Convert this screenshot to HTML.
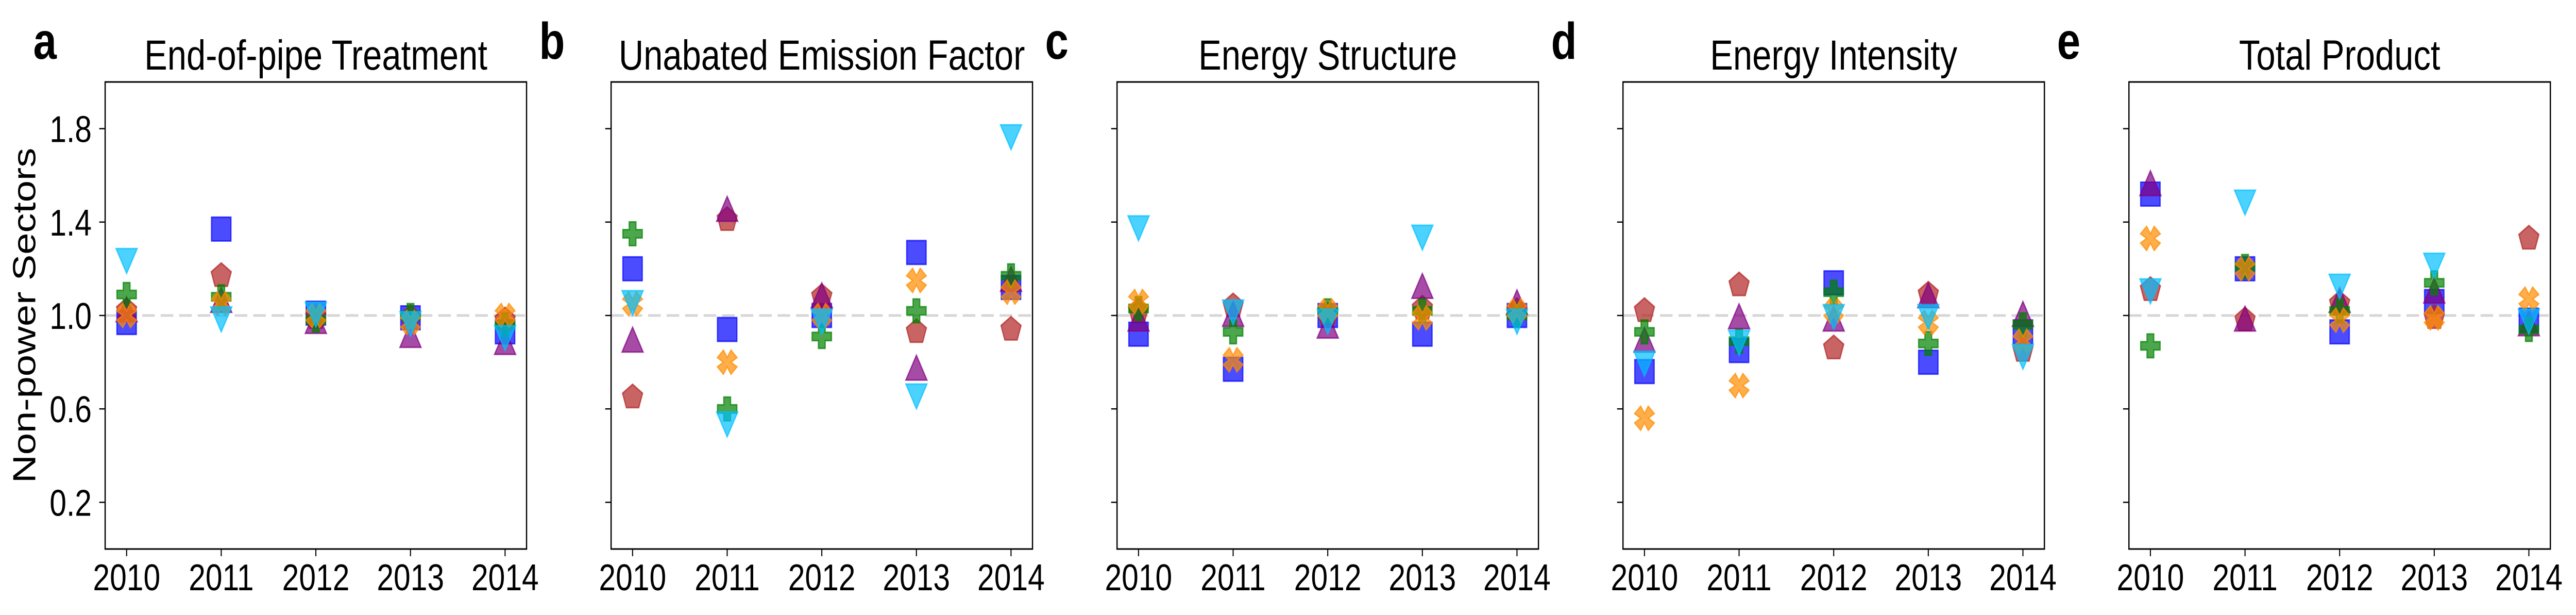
<!DOCTYPE html>
<html><head><meta charset="utf-8"><style>
html,body{margin:0;padding:0;background:#fff;width:100%;height:100%;overflow:hidden;}
svg{display:block;width:100vw;height:100vh;font-family:"Liberation Sans",Arial,sans-serif;}
</style></head><body>
<svg id="chart" viewBox="0 0 6125 1193" preserveAspectRatio="none" xmlns="http://www.w3.org/2000/svg"></svg>
<script>
const years = [2010, 2011, 2012, 2013, 2014];
const panelTitles = ["End-of-pipe Treatment", "Unabated Emission Factor", "Energy Structure", "Energy Intensity", "Total Product"];
const panelLetters = ["a", "b", "c", "d", "e"];
const yTicks = [0.2, 0.6, 1.0, 1.4, 1.8];
const yTickLabels = ["0.2", "0.6", "1.0", "1.4", "1.8"];
const squareVals = [[0.97,1.37,1.01,0.99,0.93],[1.20,0.94,1.00,1.27,1.12],[0.92,0.77,1.00,0.92,1.00],[0.76,0.85,1.14,0.80,0.93],[1.52,1.20,0.93,1.06,0.98]];
const pentagonVals = [[1.02,1.17,0.99,0.99,0.98],[0.65,1.41,1.08,0.93,0.94],[1.02,1.04,1.00,1.03,1.02],[1.02,1.13,0.86,1.09,0.85],[1.11,0.98,1.05,0.99,1.33]];
const triUpVals = [[1.02,1.06,0.97,0.91,0.88],[0.89,1.45,1.08,0.77,1.15],[0.98,1.00,0.95,1.12,1.05],[0.89,0.99,0.98,1.08,1.00],[1.56,0.98,1.06,1.10,0.96]];
const plusVals = [[1.09,1.08,0.98,1.00,0.96],[1.35,0.60,0.91,1.02,1.17],[1.03,0.93,1.02,1.02,1.00],[0.93,0.89,1.10,0.88,0.96],[0.87,1.21,1.02,1.14,0.94]];
const xVals = [[1.00,1.05,1.00,0.97,1.00],[1.05,0.80,1.00,1.15,1.10],[1.06,0.81,1.02,0.99,1.02],[0.56,0.70,1.02,0.97,0.89],[1.33,1.20,0.98,0.99,1.07]];
const triDownVals = [[1.24,0.99,1.01,0.97,0.91],[1.06,0.54,0.98,0.66,1.77],[1.38,1.02,0.98,1.34,0.98],[0.80,0.89,1.00,1.00,0.83],[1.11,1.49,1.13,1.22,0.98]];

const NS = "http://www.w3.org/2000/svg";
const svg = document.getElementById("chart");
function mk(tag, attrs, parent){const e=document.createElementNS(NS,tag);for(const k in attrs)e.setAttribute(k,attrs[k]);(parent||svg).appendChild(e);return e;}

const panelLeft0 = 250, panelStep = 1203, panelW = 1002, plotTop = 159, plotBottom = 1065;
const yMin = 0, yMax = 2.0, xMin = 2009.773, xMax = 2014.227;
function yScale(v){return plotBottom - (v - yMin)/(yMax - yMin)*(plotBottom - plotTop);}
function xScale(p, yr){const L = panelLeft0 + p*panelStep; return L + (yr - xMin)/(xMax - xMin)*panelW;}

const series = [
  {name:"square", vals:squareVals, fill:"rgba(0,0,255,0.7)", stroke:"rgba(0,0,255,0.7)"},
  {name:"pentagon", vals:pentagonVals, fill:"rgba(178,34,34,0.7)", stroke:"rgba(178,34,34,0.7)"},
  {name:"triangle-up", vals:triUpVals, fill:"rgba(128,0,128,0.7)", stroke:"rgba(128,0,128,0.7)"},
  {name:"plus", vals:plusVals, fill:"rgba(0,128,0,0.7)", stroke:"rgba(0,128,0,0.7)"},
  {name:"x", vals:xVals, fill:"rgba(255,140,0,0.7)", stroke:"rgba(255,140,0,0.7)"},
  {name:"triangle-down", vals:triDownVals, fill:"rgba(0,191,255,0.7)", stroke:"rgba(0,191,255,0.7)"}
];
function shapePath(name, cx, cy){
  const h = 23;
  if(name==="square") return `M${cx-h},${cy-h}h${2*h}v${2*h}h${-2*h}Z`;
  if(name==="triangle-up") return `M${cx},${cy-h-4}L${cx+h+2},${cy+h-2}L${cx-h-2},${cy+h-2}Z`;
  if(name==="triangle-down") return `M${cx},${cy+h+4}L${cx+h+2},${cy-h+2}L${cx-h-2},${cy-h+2}Z`;
  if(name==="pentagon"){let d="";for(let i=0;i<5;i++){const a=-Math.PI/2+i*2*Math.PI/5;d+=(i?"L":"M")+(cx+25*Math.cos(a)).toFixed(1)+","+(cy+25*Math.sin(a)).toFixed(1);}return d+"Z";}
  if(name==="plus"){const a=8,b=h;return `M${cx-a},${cy-b}h${2*a}v${b-a}h${b-a}v${2*a}h${a-b}v${b-a}h${-2*a}v${a-b}h${a-b}v${-2*a}h${b-a}Z`;}
  if(name==="x"){const pts=[];const r1=25,r2=9;for(let i=0;i<4;i++){const a=Math.PI/4+i*Math.PI/2;const pa=a-0.42,pb=a+0.42;pts.push([cx+r1*Math.cos(pa),cy+r1*Math.sin(pa)]);pts.push([cx+r1*Math.cos(pb),cy+r1*Math.sin(pb)]);const m=a+Math.PI/4;pts.push([cx+r2*Math.cos(m),cy+r2*Math.sin(m)]);}
    return "M"+pts.map(p=>p[0].toFixed(1)+","+p[1].toFixed(1)).join("L")+"Z";}
}

for(let p=0;p<5;p++){
  const L = panelLeft0 + p*panelStep;
  const g = mk("g",{});
  
  
  const letter = mk("text",{x:L-171,y:114,"font-size":100,"font-weight":"bold"},g);
  letter.textContent = panelLetters[p];
  
  
  const title = mk("text",{x:L+panelW/2,y:135,"font-size":82,"text-anchor":"middle"},g);
  title.textContent = panelTitles[p];
  
  
  const ref = mk("line",{x1:L,x2:L+panelW,y1:yScale(1),y2:yScale(1),stroke:"#d6d6d6","stroke-width":5,"stroke-dasharray":"30 14"},g);
  
  
  for(let i=0;i<yTicks.length;i++){
    const yy=yScale(yTicks[i]);
    const t = mk("line",{x1:L-14,x2:L,y1:yy,y2:yy,stroke:"#000","stroke-width":2.5},g);
    
    
    if(p===0){
      const tl = mk("text",{x:L-32,y:yy+26,"font-size":72,"text-anchor":"end"},g);
      tl.textContent = yTickLabels[i];
      
      
    }
  }
  for(let j=0;j<years.length;j++){
    const xx=xScale(p,years[j]);
    const t = mk("line",{x1:xx,x2:xx,y1:plotBottom,y2:plotBottom+14,stroke:"#000","stroke-width":2.5},g);
    
    
    const tl = mk("text",{x:xx,y:1145,"font-size":72,"text-anchor":"middle"},g);
    tl.textContent = String(years[j]);
    
    
  }
  for(const s of series){
    for(let j=0;j<years.length;j++){
      const m = mk("path",{d:shapePath(s.name, xScale(p,years[j]), yScale(s.vals[p][j])),fill:s.fill,stroke:s.stroke,"stroke-width":3,"stroke-linejoin":"miter"},g);
      
      
    }
  }
  const frame = mk("rect",{x:L,y:plotTop,width:panelW,height:plotBottom-plotTop,fill:"none",stroke:"#000","stroke-width":3},g);
  
  
}
const yl = mk("text",{x:0,y:0,"font-size":76,"text-anchor":"middle",transform:"translate(84,612) rotate(-90)"});
yl.textContent = "Non-power Sectors";


</script>
</body></html>
